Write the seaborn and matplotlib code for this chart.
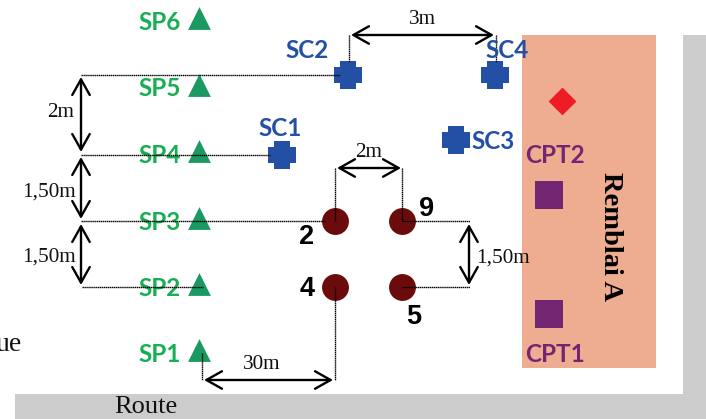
import matplotlib
matplotlib.use("Agg")
import matplotlib.pyplot as plt
from matplotlib.patches import Rectangle
import pandas as pd
import seaborn as sns

sp_names = ["SP6", "SP5", "SP4", "SP3", "SP2", "SP1"]
sp_x = [199, 199, 199, 199, 199, 199]
sp_y = [18, 85, 151, 218, 284, 350]

sc_names = ["SC2", "SC4", "SC1", "SC3"]
sc_x = [348, 495, 282, 456]
sc_y = [75, 75, 155, 140]

pz_names = ["2", "9", "4", "5"]
pz_x = [335, 402, 335, 402]
pz_y = [221, 221, 287, 287]

cpt_names = ["CPT2", "CPT1"]
cpt_x = [549, 549]
cpt_y = [195, 314]

diamond_x = [562]
diamond_y = [101]

# lignes de rappel pointillees : x1, y1, x2, y2
guide_x1 = [81, 81, 81, 82, 349, 496, 335, 402, 402, 402, 335, 202]
guide_y1 = [75, 155, 221, 287, 35, 35, 168, 168, 221, 287, 287, 353]
guide_x2 = [340, 270, 325, 203, 349, 496, 335, 402, 470, 470, 335, 202]
guide_y2 = [75, 155, 221, 287, 62, 62, 221, 221, 221, 287, 380, 380]

# fleches de cotes
dim_x1 = [81, 81, 81, 469, 351, 337, 204]
dim_y1 = [77, 157, 224, 224, 35, 168, 380]
dim_x2 = [81, 81, 81, 469, 494, 401, 333]
dim_y2 = [152, 219, 285, 285, 35, 168, 380]

# textes de cotes
dim_labels = ["2m", "1,50m", "1,50m", "1,50m", "3m", "2m", "30m"]
dim_label_x = [61, 49, 49, 503, 422, 369, 262]
dim_label_y = [112, 192, 257, 258, 19, 152, 364]

PURPLE = "#722671"
GREEN = "#1a9a62"
BLUE = "#2350a5"
DARK = "#6b0b0b"

sns.set_theme(style="white")
plt.rcParams["font.family"] = ["Lato", "DejaVu Sans"]

fig = plt.figure(figsize=(7.06, 4.19), dpi=100)
ax = fig.add_axes([0, 0, 1, 1])

# fond : route, bordure et remblai
ax.add_patch(Rectangle((15, 394), 691, 25, color="#cccccc", lw=0, zorder=0))
ax.add_patch(Rectangle((683, 35), 23, 359, color="#cccccc", lw=0, zorder=0))
ax.add_patch(Rectangle((522, 35), 134, 333, color="#eeac90", lw=0, zorder=0))

# marqueurs
fat_plus = [(-1, -0.58), (-0.6, -0.58), (-0.6, -1), (0.6, -1), (0.6, -0.58), (1, -0.58),
            (1, 0.58), (0.6, 0.58), (0.6, 1), (-0.6, 1), (-0.6, 0.58), (-1, 0.58)]
sp_df = pd.DataFrame({"x": sp_x, "y": sp_y})
sc_df = pd.DataFrame({"x": sc_x, "y": sc_y})
pz_df = pd.DataFrame({"x": pz_x, "y": pz_y})
cpt_df = pd.DataFrame({"x": cpt_x, "y": cpt_y})
dia_df = pd.DataFrame({"x": diamond_x, "y": diamond_y})
sns.scatterplot(data=sp_df, x="x", y="y", marker="^", s=270, color=GREEN, linewidth=0, ax=ax, zorder=2)
sns.scatterplot(data=sc_df, x="x", y="y", marker=fat_plus, s=410, color=BLUE, linewidth=0, ax=ax, zorder=2)
sns.scatterplot(data=pz_df, x="x", y="y", marker="o", s=375, color=DARK, linewidth=0, ax=ax, zorder=2)
sns.scatterplot(data=cpt_df, x="x", y="y", marker="s", s=400, color=PURPLE, linewidth=0, ax=ax, zorder=2)
sns.scatterplot(data=dia_df, x="x", y="y", marker="D", s=200, color="#ee1c25", linewidth=0, ax=ax, zorder=2)

# lignes de rappel
for x1, y1, x2, y2 in zip(guide_x1, guide_y1, guide_x2, guide_y2):
    ax.plot([x1, x2], [y1, y2], color="black", lw=1.0, ls=(0, (1, 0.4)), zorder=4)

# fleches
for x1, y1, x2, y2 in zip(dim_x1, dim_y1, dim_x2, dim_y2):
    ax.annotate("", xy=(x2, y2), xytext=(x1, y1), zorder=4,
                arrowprops=dict(arrowstyle="<->,head_length=0.8,head_width=0.45", color="black",
                                lw=1.7, shrinkA=0, shrinkB=0, mutation_scale=14))

# etiquettes
for name, x, y in zip(sp_names, sp_x, sp_y):
    ax.text(x - 18, y + 4, name, color="#17ae54", fontsize=17.5, fontweight="bold", ha="right", va="center", zorder=3)

sc_label_x = [307, 507, 280, 493]
sc_label_y = [51, 51, 128, 141]
for name, x, y in zip(sc_names, sc_label_x, sc_label_y):
    ax.text(x, y, name, color=BLUE, fontsize=17.5, fontweight="bold", ha="center", va="center", zorder=5)

cpt_label_x = [555, 555]
cpt_label_y = [155, 354]
for name, x, y in zip(cpt_names, cpt_label_x, cpt_label_y):
    ax.text(x, y, name, color=PURPLE, fontsize=17.5, fontweight="bold", ha="center", va="center", zorder=3)

pz_label_x = [307, 427, 307, 414]
pz_label_y = [237, 209, 289, 317]
for name, x, y in zip(pz_names, pz_label_x, pz_label_y):
    ax.text(x, y, name, color="black", fontsize=19.5, fontweight="bold", family="Liberation Sans",
            ha="center", va="center", zorder=3)

for name, x, y in zip(dim_labels, dim_label_x, dim_label_y):
    ax.text(x, y, name, color="#111111", fontsize=15.3, family="Liberation Serif", ha="center", va="center", zorder=5)

ax.text(146, 407, "Route", color="#111111", fontsize=19, family="Liberation Serif", ha="center", va="center")
ax.text(22, 344, "ue", color="#111111", fontsize=20, family="Liberation Serif", ha="right", va="center")
ax.text(611, 236, "Remblai A", color="black", fontsize=20.5, fontweight="bold", family="Liberation Serif",
        rotation=270, ha="center", va="center", zorder=3)

ax.set_xlim(0, 706)
ax.set_ylim(419, 0)
ax.axis("off")

plt.savefig("out.png", dpi=100)
